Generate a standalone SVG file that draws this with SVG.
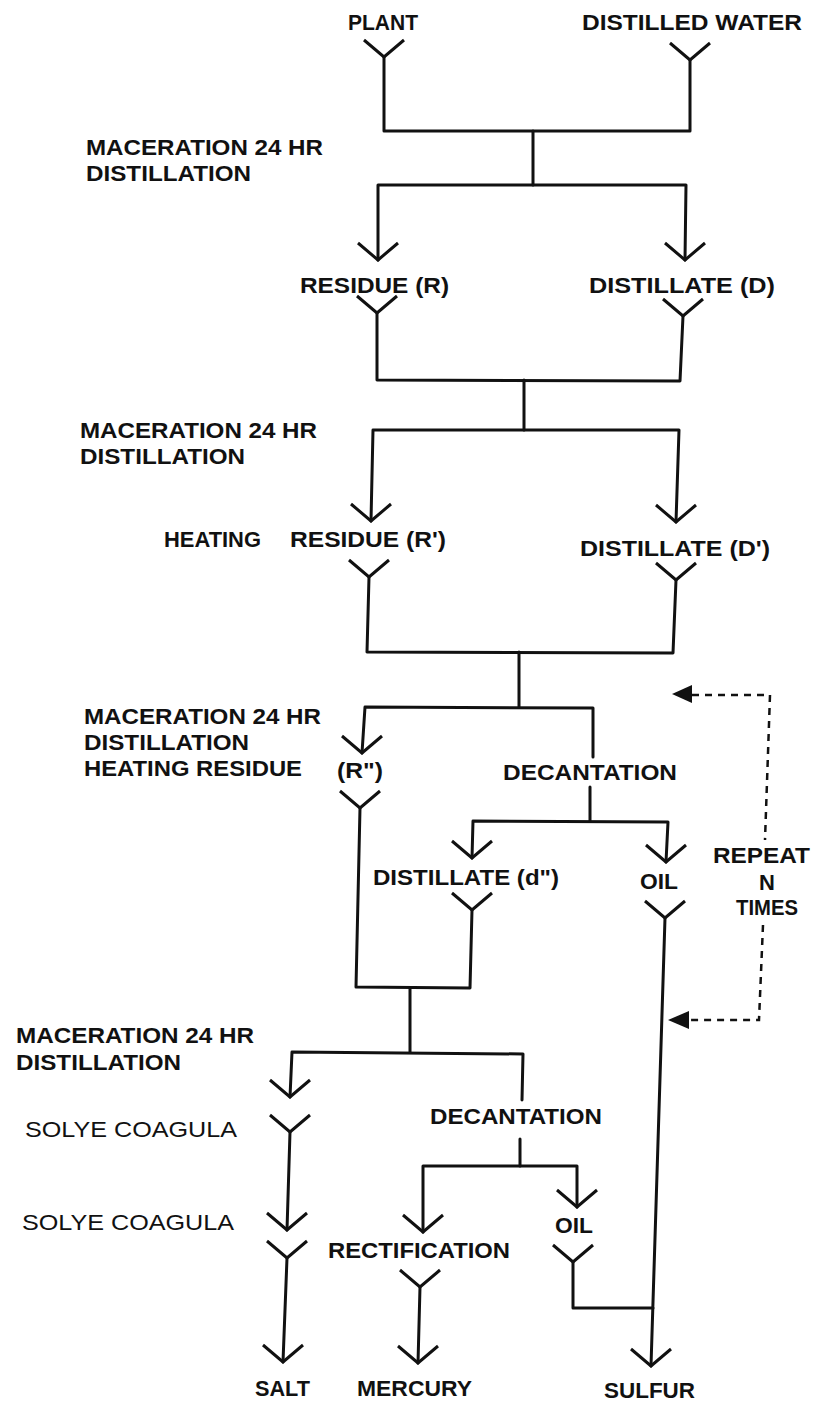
<svg xmlns="http://www.w3.org/2000/svg" xmlns:xlink="http://www.w3.org/1999/xlink" width="815" height="1404" viewBox="0 0 815 1404">
<style>
.t{font-family:"Liberation Sans",Arial,sans-serif;font-weight:bold;font-size:22px;fill:#111}
.n{font-weight:normal}
.ln{fill:none;stroke:#111;stroke-width:3;stroke-linejoin:round;stroke-linecap:round}
.ds{fill:none;stroke:#111;stroke-width:2.5;stroke-dasharray:7 6}
.ah{fill:#111}
</style>
<defs>
<path id="v" d="M-20,-17 L0,0 L20,-17" fill="none" stroke="#111" stroke-width="3" stroke-linejoin="miter"/>
</defs>
<rect width="815" height="1404" fill="#fff"/>

<g id="connectors">
<!-- block 1 -->
<path class="ln" d="M384,57 L384,131 L690,131 L690,60"/>
<path class="ln" d="M533,131 L533,185"/>
<path class="ln" d="M378,260 L378,185 L686,185 L685,260"/>
<use href="#v" x="384" y="57"/><use href="#v" x="690" y="60"/>
<use href="#v" x="378" y="260"/><use href="#v" x="685" y="260"/>
<!-- block 2 -->
<path class="ln" d="M377,313 L377,380 L680,381 L683,316"/>
<path class="ln" d="M524,380 L524,430"/>
<path class="ln" d="M371,521 L373,430 L679,430 L676,522"/>
<use href="#v" x="377" y="313"/><use href="#v" x="683" y="316"/>
<use href="#v" x="371" y="521"/><use href="#v" x="676" y="522"/>
<!-- block 3 -->
<path class="ln" d="M369,577 L367,652 L673,653 L676,580"/>
<path class="ln" d="M519,652 L519,707"/>
<path class="ln" d="M362,753 L365,707 L593,708 L593,757"/>
<path class="ln" d="M590,787 L590,821"/>
<path class="ln" d="M472,858 L473,821 L668,822 L666,862"/>
<use href="#v" x="369" y="577"/><use href="#v" x="676" y="580"/>
<use href="#v" x="362" y="753"/>
<use href="#v" x="472" y="858"/><use href="#v" x="666" y="862"/>
<!-- block 4 -->
<path class="ln" d="M360,808 L356,987 L470,988 L472,910"/>
<use href="#v" x="360" y="808"/><use href="#v" x="472" y="910"/>
<path class="ln" d="M410,988 L410,1052"/>
<path class="ln" d="M290,1097 L292,1052 L523,1054 L522,1100"/>
<use href="#v" x="290" y="1097"/>
<path class="ln" d="M290,1132 L287,1230"/>
<use href="#v" x="290" y="1132"/><use href="#v" x="287" y="1230"/>
<path class="ln" d="M287,1258 L283,1362"/>
<use href="#v" x="287" y="1258"/><use href="#v" x="283" y="1362"/>
<path class="ln" d="M520,1139 L520,1166"/>
<path class="ln" d="M423,1232 L423,1166 L577,1166 L577,1207"/>
<use href="#v" x="423" y="1232"/><use href="#v" x="577" y="1207"/>
<path class="ln" d="M420,1287 L418,1363"/>
<use href="#v" x="420" y="1287"/><use href="#v" x="418" y="1363"/>
<path class="ln" d="M573,1262 L573,1308 L653,1308"/>
<use href="#v" x="573" y="1262"/>
<path class="ln" d="M665,918 L651,1366"/>
<use href="#v" x="665" y="918"/><use href="#v" x="651" y="1366"/>
<!-- repeat loop -->
<path class="ds" d="M692,695 L770,695 L765,840"/>
<path class="ds" d="M763,925 L759,1020 L688,1020"/>
<polygon class="ah" points="672,694 692,685 692,703"/>
<polygon class="ah" points="668,1020 689,1011 689,1029"/>
</g>

<g id="n-plant"><text class="t" x="348" y="30" textLength="70" lengthAdjust="spacingAndGlyphs">PLANT</text></g>
<g id="n-water"><text class="t" x="582" y="30" textLength="220" lengthAdjust="spacingAndGlyphs">DISTILLED WATER</text></g>
<g id="n-step1"><text class="t" x="86" y="155" textLength="237" lengthAdjust="spacingAndGlyphs">MACERATION 24 HR</text><text class="t" x="86" y="181" textLength="165" lengthAdjust="spacingAndGlyphs">DISTILLATION</text></g>
<g id="n-residue-r"><text class="t" x="300" y="293" textLength="149" lengthAdjust="spacingAndGlyphs">RESIDUE (R)</text></g>
<g id="n-distillate-d"><text class="t" x="589" y="293" textLength="186" lengthAdjust="spacingAndGlyphs">DISTILLATE (D)</text></g>
<g id="n-step2"><text class="t" x="80" y="438" textLength="237" lengthAdjust="spacingAndGlyphs">MACERATION 24 HR</text><text class="t" x="80" y="464" textLength="165" lengthAdjust="spacingAndGlyphs">DISTILLATION</text></g>
<g id="n-heating"><text class="t" x="164" y="547" textLength="97" lengthAdjust="spacingAndGlyphs">HEATING</text></g>
<g id="n-residue-r1"><text class="t" x="290" y="547" textLength="156" lengthAdjust="spacingAndGlyphs">RESIDUE (R')</text></g>
<g id="n-distillate-d1"><text class="t" x="580" y="556" textLength="190" lengthAdjust="spacingAndGlyphs">DISTILLATE (D')</text></g>
<g id="n-step3"><text class="t" x="84" y="724" textLength="237" lengthAdjust="spacingAndGlyphs">MACERATION 24 HR</text><text class="t" x="84" y="750" textLength="165" lengthAdjust="spacingAndGlyphs">DISTILLATION</text><text class="t" x="84" y="776" textLength="218" lengthAdjust="spacingAndGlyphs">HEATING RESIDUE</text></g>
<g id="n-residue-r2"><text class="t" x="337" y="778" textLength="46" lengthAdjust="spacingAndGlyphs">(R")</text></g>
<g id="n-decant1"><text class="t" x="503" y="780" textLength="174" lengthAdjust="spacingAndGlyphs">DECANTATION</text></g>
<g id="n-distillate-d2"><text class="t" x="373" y="885" textLength="186" lengthAdjust="spacingAndGlyphs">DISTILLATE (d")</text></g>
<g id="n-oil1"><text class="t" x="640" y="889" textLength="38" lengthAdjust="spacingAndGlyphs">OIL</text></g>
<g id="n-repeat"><text class="t" x="713" y="863" textLength="97" lengthAdjust="spacingAndGlyphs">REPEAT</text><text class="t" x="767" y="890" text-anchor="middle">N</text><text class="t" x="767" y="915" text-anchor="middle" textLength="62" lengthAdjust="spacingAndGlyphs">TIMES</text></g>
<g id="n-step4"><text class="t" x="16" y="1043" textLength="238" lengthAdjust="spacingAndGlyphs">MACERATION 24 HR</text><text class="t" x="16" y="1070" textLength="165" lengthAdjust="spacingAndGlyphs">DISTILLATION</text></g>
<g id="n-solve1"><text class="t n" x="25" y="1137" textLength="212" lengthAdjust="spacingAndGlyphs">SOLYE COAGULA</text></g>
<g id="n-decant2"><text class="t" x="430" y="1124" textLength="172" lengthAdjust="spacingAndGlyphs">DECANTATION</text></g>
<g id="n-solve2"><text class="t n" x="22" y="1230" textLength="212" lengthAdjust="spacingAndGlyphs">SOLYE COAGULA</text></g>
<g id="n-rect"><text class="t" x="328" y="1258" textLength="182" lengthAdjust="spacingAndGlyphs">RECTIFICATION</text></g>
<g id="n-oil2"><text class="t" x="555" y="1233" textLength="38" lengthAdjust="spacingAndGlyphs">OIL</text></g>
<g id="n-salt"><text class="t" x="255" y="1396" textLength="55" lengthAdjust="spacingAndGlyphs">SALT</text></g>
<g id="n-mercury"><text class="t" x="357" y="1396" textLength="115" lengthAdjust="spacingAndGlyphs">MERCURY</text></g>
<g id="n-sulfur"><text class="t" x="604" y="1398" textLength="91" lengthAdjust="spacingAndGlyphs">SULFUR</text></g>
</svg>
